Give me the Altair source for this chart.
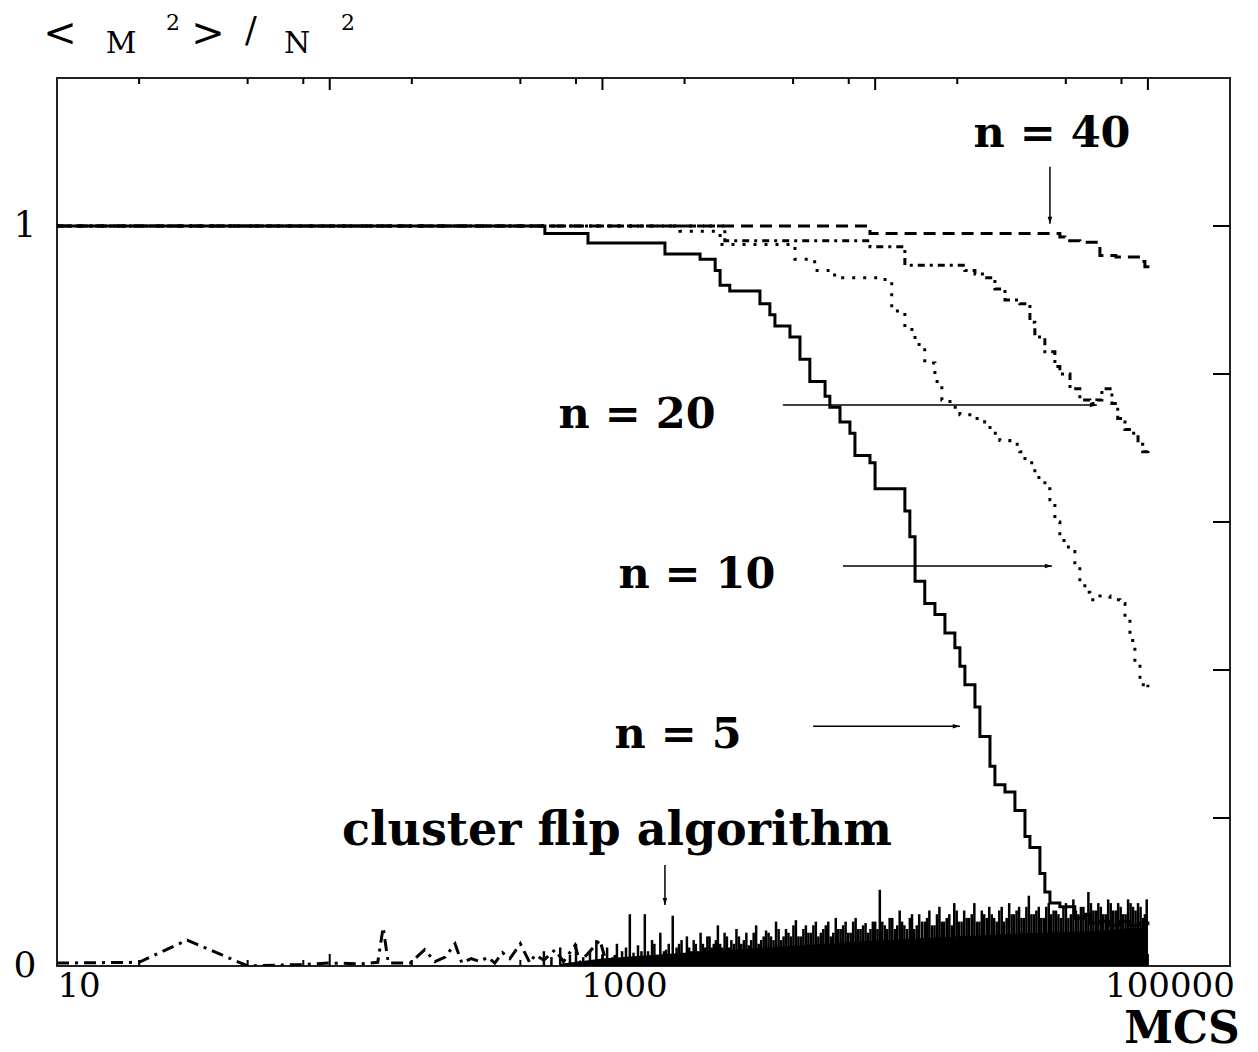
import altair as alt
import pandas as pd

# ---------------- data ----------------
N5_MCS = [10, 615, 885, 1695, 2280, 2590, 2700, 2930, 3780, 4110, 4290, 4870, 5300, 5760,
          6550, 6820, 7430, 8080, 8430, 9570, 9990, 12850, 13400, 14000, 15200, 16560,
          18020, 19600, 20450, 21330, 23220, 24210, 26360, 27480, 29920, 32540, 35420,
          36930, 40180, 41900, 43730, 47550, 53960, 58730, 61250, 66680, 72600, 78930,
          85930, 93520, 100000]
N5_VAL = [1.0, 0.99, 0.977, 0.962, 0.955, 0.94, 0.92, 0.912, 0.895, 0.88, 0.865, 0.85, 0.82,
          0.79, 0.77, 0.755, 0.735, 0.72, 0.69, 0.68, 0.645, 0.615, 0.58, 0.52, 0.49, 0.475,
          0.45, 0.43, 0.405, 0.38, 0.35, 0.31, 0.27, 0.245, 0.235, 0.21, 0.175, 0.16, 0.125,
          0.1, 0.085, 0.08, 0.065, 0.07, 0.058, 0.06, 0.055, 0.06, 0.055, 0.058, 0.055]

N10_MCS = [10, 1923, 2700, 5080, 6000, 7100, 10870, 11500, 12850, 14000, 15200, 16560, 17560,
           18800, 20450, 23220, 25200, 26360, 28650, 31170, 33900, 35420, 38500, 41900,
           43730, 45600, 47550, 51100, 53960, 56300, 58730, 61250, 66680, 72600, 78930,
           82400, 85930, 89600, 93520, 97500, 100000]
N10_VAL = [1.0, 0.993, 0.975, 0.955, 0.94, 0.93, 0.925, 0.885, 0.86, 0.84, 0.815, 0.79, 0.765,
           0.755, 0.745, 0.74, 0.735, 0.72, 0.71, 0.705, 0.695, 0.68, 0.66, 0.645, 0.63, 0.6,
           0.575, 0.56, 0.545, 0.52, 0.505, 0.495, 0.5, 0.495, 0.49, 0.47, 0.44, 0.41, 0.38,
           0.375, 0.38]

N20_MCS = [10, 2810, 9570, 12850, 21330, 23220, 25200, 27480, 29920, 33900, 36930, 38500,
           41900, 45600, 47550, 51800, 56300, 61250, 65000, 67800, 71400, 73800, 77500,
           82400, 87400, 92000, 95700, 100000]
N20_VAL = [1.0, 0.98, 0.972, 0.947, 0.94, 0.935, 0.93, 0.915, 0.9, 0.895, 0.87, 0.85, 0.83,
           0.81, 0.8, 0.78, 0.765, 0.76, 0.765, 0.78, 0.78, 0.76, 0.74, 0.725, 0.72, 0.705,
           0.695, 0.697]

N40_MCS = [10, 9570, 47550, 49600, 56300, 66680, 76300, 93520, 97500, 100000]
N40_VAL = [1.0, 0.99, 0.985, 0.98, 0.978, 0.96, 0.958, 0.952, 0.945, 0.947]

CL_MCS = [10, 20, 30, 50, 78, 100, 130, 150, 157, 164, 197, 223, 243, 265, 288, 305, 330,
          355, 380, 403, 430, 458, 500, 542, 566, 610, 670, 720, 793, 827, 900, 979, 1030]
CL_VAL = [0.004, 0.005, 0.035, 0.0, 0.002, 0.004, 0.003, 0.005, 0.052, 0.004, 0.004, 0.022,
          0.006, 0.012, 0.03, 0.004, 0.01, 0.006, 0.012, 0.004, 0.018, 0.01, 0.03, 0.004,
          0.015, 0.008, 0.022, 0.006, 0.028, 0.005, 0.02, 0.035, 0.006]

SPIKE_MCS = [610, 650, 700, 760, 800, 850, 900, 950, 1000,
             1040, 1090, 1130, 1180, 1260, 1300, 1350, 1430, 1470, 1520, 1580, 1630, 1680,
             1750, 1810, 1870, 1950,
             2040, 2120, 2200, 2290, 2380, 2470, 2560, 2650, 2750, 2860, 2970, 3100, 3230,
             3370, 3510, 3660, 3820, 3980,
             4150, 4330, 4520, 4710, 4910, 5120, 5340, 5570, 5810, 6060, 6320, 6590, 6870,
             7170, 7470, 7790, 8130, 8480, 8840, 9220, 9610, 10000,
             10400, 10850, 11300, 11800, 12300, 12800, 13400, 13900, 14500, 15200, 15800,
             16500, 17200, 17900, 18700, 19500, 20300, 21200, 22100, 23100, 24100, 25100,
             26200, 27300, 28500, 29700, 31000, 32300, 33700, 35100, 36600, 38200, 39800,
             41500, 43300, 45100, 47000, 49000, 51100, 53300, 55600, 58000, 60500, 63100,
             65800, 68600, 71500, 74600, 77800, 81100, 84600, 88200, 92000, 96000, 99000]
SPIKE_VAL = [0.02, 0.012, 0.025, 0.015, 0.03, 0.012, 0.02, 0.035, 0.015,
             0.025, 0.012, 0.03, 0.02, 0.07, 0.018, 0.028, 0.07, 0.02, 0.035, 0.015, 0.045,
             0.02, 0.03, 0.068, 0.025, 0.035,
             0.04, 0.02, 0.03, 0.045, 0.025, 0.04, 0.03, 0.055, 0.025, 0.04, 0.035, 0.05,
             0.03, 0.045, 0.035, 0.055, 0.035, 0.048,
             0.04, 0.06, 0.035, 0.05, 0.04, 0.062, 0.04, 0.055, 0.045, 0.06, 0.045, 0.055,
             0.04, 0.065, 0.05, 0.06, 0.045, 0.065, 0.05, 0.058, 0.05, 0.06,
             0.103, 0.055, 0.065, 0.05, 0.075, 0.055, 0.065, 0.05, 0.07, 0.06, 0.075, 0.055,
             0.08, 0.06, 0.07, 0.085, 0.06, 0.075, 0.065, 0.085, 0.06, 0.07, 0.08, 0.065,
             0.075, 0.06, 0.085, 0.07, 0.08, 0.065, 0.095, 0.07, 0.08, 0.065, 0.085, 0.075,
             0.07, 0.08, 0.065, 0.09, 0.07, 0.08, 0.1, 0.075, 0.085, 0.07, 0.09, 0.075,
             0.085, 0.07, 0.09, 0.08, 0.085, 0.065, 0.09]

# lower spikes lying between the tall ones (MCS, value)
MID_SPIKES = [
    (1110, 0.015), (1220, 0.025), (1390, 0.02), (1550, 0.03), (1710, 0.022), (1910, 0.03),
    (2080, 0.025), (2160, 0.035), (2245, 0.02), (2335, 0.03), (2425, 0.04), (2515, 0.025),
    (2605, 0.035), (2700, 0.03), (2805, 0.045), (2915, 0.025), (3035, 0.03), (3165, 0.04),
    (3300, 0.035), (3440, 0.028), (3585, 0.045), (3740, 0.03), (3900, 0.04),
    (4065, 0.045), (4240, 0.035), (4425, 0.05), (4615, 0.04), (4810, 0.045), (5015, 0.055),
    (5230, 0.04), (5455, 0.05), (5690, 0.045), (5935, 0.055), (6190, 0.04), (6455, 0.05),
    (6730, 0.06), (7020, 0.045), (7320, 0.05), (7630, 0.055), (7960, 0.045), (8305, 0.06),
    (8660, 0.05), (9030, 0.055), (9415, 0.045), (9805, 0.06), (10200, 0.05),
    (10620, 0.06), (11070, 0.05), (11550, 0.065), (12050, 0.055), (12550, 0.06),
    (13100, 0.05), (13650, 0.07), (14200, 0.055), (14850, 0.06), (15500, 0.065),
    (16150, 0.055), (16850, 0.07), (17550, 0.06), (18300, 0.065), (19100, 0.055),
    (19900, 0.075), (20750, 0.06), (21650, 0.065), (22600, 0.07), (23600, 0.06),
    (24600, 0.075), (25650, 0.065), (26750, 0.07), (27900, 0.06), (29100, 0.08),
    (30350, 0.065), (31650, 0.07), (33000, 0.075), (34400, 0.065), (35850, 0.08),
    (37400, 0.07), (39000, 0.075), (40650, 0.065), (42400, 0.08), (44200, 0.07),
    (46050, 0.075), (48000, 0.065), (50050, 0.085), (52200, 0.07), (54450, 0.075),
    (56800, 0.08), (59250, 0.07), (61800, 0.085), (64450, 0.075), (67200, 0.08),
    (70050, 0.07), (73050, 0.085), (76200, 0.075), (79450, 0.08), (82850, 0.07),
    (86400, 0.085), (90100, 0.075), (94000, 0.08), (97500, 0.07),
]

BASE_MCS = [700, 1000, 2000, 4000, 8000, 15000, 30000, 60000, 95000, 97000, 100000]
BASE_VAL = [0.003, 0.01, 0.018, 0.025, 0.032, 0.038, 0.043, 0.047, 0.052, 0.065, 0.065]

LABELS = ["n = 40", "n = 20", "n = 10", "n = 5"]
LABEL_MCS = [44500, 1340, 2220, 1893]
LABEL_VAL = [1.107, 0.727, 0.511, 0.2946]

CLUSTER_LABEL = ["cluster flip algorithm"]
CLUSTER_LABEL_MCS = [1130]
CLUSTER_LABEL_VAL = [0.1635]

H_ARROW_FROM = [4590, 7620, 5920]
H_ARROW_TO = [65000, 44460, 20450]
H_ARROW_VAL = [0.758, 0.5405, 0.324]

V_ARROW_MCS = [43730, 1695]
V_ARROW_FROM = [1.08, 0.1365]
V_ARROW_TO = [1.003, 0.0824]

X_LABEL_VALUES = [10, 1000, 100000]
X_LABEL_TEXT = ["10", "1000", "100000"]
Y_LABEL_VALUES = [0, 1]
Y_LABEL_TEXT = ["0", "1"]
X_MAJOR_TICKS = [100, 1000, 10000, 100000]
X_MINOR_TICKS = [20, 50, 80, 200, 500, 800, 2000, 5000, 8000, 20000, 50000, 80000]
Y_TICKS = [0.2, 0.4, 0.6, 0.8, 1.0]

# ---------------- chart ----------------
W, H = 1173, 888
SERIF = "DejaVu Serif"

xscale = alt.Scale(type="log", domain=[10, 200000], nice=False)
yscale = alt.Scale(domain=[0, 1.2], nice=False, zero=False)


def X(field="mcs"):
    return alt.X(f"{field}:Q", scale=xscale, axis=None)


def Y(field="m2"):
    return alt.Y(f"{field}:Q", scale=yscale, axis=None)


def curve(xs, ys, dash, interp="step-after"):
    df = pd.DataFrame({"mcs": xs, "m2": ys})
    kw = dict(interpolate=interp, color="black", strokeWidth=3, clip=True)
    if dash:
        kw["strokeDash"] = dash
    return alt.Chart(df).mark_line(**kw).encode(x=X(), y=Y())


n5 = curve(N5_MCS, N5_VAL, None)
n10 = curve(N10_MCS, N10_VAL, [3, 8])
n20 = curve(N20_MCS, N20_VAL, [7, 5, 3, 5])
n40 = curve(N40_MCS, N40_VAL, [12, 7])
cl = curve(CL_MCS, CL_VAL, [12, 6, 3, 6], interp="linear")

spikes = alt.Chart(pd.DataFrame({"mcs": SPIKE_MCS, "top": SPIKE_VAL, "m2": [0.0] * len(SPIKE_MCS)})
                   ).mark_rule(color="black", strokeWidth=2.5).encode(
    x=X(), y=Y(), y2="top:Q")
mid_df = pd.DataFrame(MID_SPIKES, columns=["mcs", "top"])
mid_df["m2"] = 0.0
mid_spikes = alt.Chart(mid_df).mark_rule(color="black", strokeWidth=2.5).encode(
    x=X(), y=Y(), y2="top:Q")

base = alt.Chart(pd.DataFrame({"mcs": BASE_MCS, "m2": BASE_VAL})).mark_area(
    color="black", opacity=1, interpolate="linear").encode(x=X(), y=Y())

# tick labels (x labels sit right of their ticks, as in the original)
xlabels = alt.Chart(pd.DataFrame({"mcs": X_LABEL_VALUES, "t": X_LABEL_TEXT})).mark_text(
    font=SERIF, fontSize=34, align="center", baseline="top", dx=22, color="black",
    clip=False).encode(x=X(), y=alt.value(H + 4), text="t:N")
ylabels = alt.Chart(pd.DataFrame({"m2": Y_LABEL_VALUES, "t": Y_LABEL_TEXT})).mark_text(
    font=SERIF, fontSize=36, align="center", baseline="middle", color="black",
    clip=False).encode(y=Y(), x=alt.value(-32), text="t:N")

# frame ticks (pointing inward)
major = pd.DataFrame({"mcs": X_MAJOR_TICKS})
minor = pd.DataFrame({"mcs": X_MINOR_TICKS})
tick_style = dict(color="black", strokeWidth=2)
ticks = [
    alt.Chart(major).mark_rule(**tick_style).encode(x=X(), y=alt.value(0), y2=alt.value(12)),
    alt.Chart(minor).mark_rule(**tick_style).encode(x=X(), y=alt.value(0), y2=alt.value(6)),
    alt.Chart(major).mark_rule(**tick_style).encode(x=X(), y=alt.value(H - 12), y2=alt.value(H)),
    alt.Chart(minor).mark_rule(**tick_style).encode(x=X(), y=alt.value(H - 6), y2=alt.value(H)),
    alt.Chart(pd.DataFrame({"m2": Y_TICKS})).mark_rule(**tick_style).encode(
        y=Y(), x=alt.value(W - 17), x2=alt.value(W)),
]

# arrows
harr = pd.DataFrame({"mcs": H_ARROW_FROM, "mcs2": H_ARROW_TO, "m2": H_ARROW_VAL})
varr = pd.DataFrame({"mcs": V_ARROW_MCS, "m2": V_ARROW_FROM, "m2b": V_ARROW_TO})
arrow_lines = [
    alt.Chart(harr).mark_rule(color="black", strokeWidth=1.5).encode(x=X(), x2="mcs2:Q", y=Y()),
    alt.Chart(varr).mark_rule(color="black", strokeWidth=1.5).encode(x=X(), y=Y(), y2="m2b:Q"),
]
RIGHT_HEAD = "M-1,-0.32L0,0L-1,0.32Z"
DOWN_HEAD = "M-0.32,-1L0,0L0.32,-1Z"
heads = [
    alt.Chart(harr).mark_point(shape=RIGHT_HEAD, filled=True, size=200, color="black",
                               opacity=1, strokeWidth=0).encode(x=X("mcs2"), y=Y()),
    alt.Chart(varr).mark_point(shape=DOWN_HEAD, filled=True, size=200, color="black",
                               opacity=1, strokeWidth=0).encode(x=X(), y=Y("m2b")),
]

labels = alt.Chart(pd.DataFrame({"label": LABELS, "mcs": LABEL_MCS, "m2": LABEL_VAL})).mark_text(
    font=SERIF, fontWeight="bold", fontSize=43, align="center", baseline="alphabetic",
    color="black").encode(x=X(), y=Y(), text="label:N")

cl_label = alt.Chart(pd.DataFrame({"label": CLUSTER_LABEL, "mcs": CLUSTER_LABEL_MCS,
                                   "m2": CLUSTER_LABEL_VAL})).mark_text(
    font=SERIF, fontWeight="bold", fontSize=46, align="center", baseline="alphabetic",
    color="black").encode(x=X(), y=Y(), text="label:N")

one = pd.DataFrame({"a": [0]})


def free_text(txt, x, y, size, weight="normal"):
    return alt.Chart(one).mark_text(text=txt, font=SERIF, fontSize=size, fontWeight=weight,
                                    align="center", baseline="alphabetic", color="black",
                                    clip=False).encode(x=alt.value(x), y=alt.value(y))


title_parts = [
    free_text("<", 3, -32, 40),
    free_text("M", 64, -25, 30),
    free_text("2", 116, -48, 22),
    free_text(">", 151, -32, 40),
    free_text("/", 194, -36, 35),
    free_text("N", 240, -25, 30),
    free_text("2", 291, -48, 22),
    free_text("MCS", 1125, 965, 44, "bold"),
]

chart = alt.layer(
    n5, base, spikes, mid_spikes, cl, n10, n20, n40, *ticks, *arrow_lines, *heads, labels,
    cl_label, xlabels, ylabels, *title_parts
).properties(
    width=W, height=H, autosize="none",
    padding={"left": 57, "top": 78, "right": 28, "bottom": 86},
    background="white",
).configure_view(stroke="#222", strokeWidth=2)

chart.save("out.html", embed_options={"renderer": "svg", "actions": False})
